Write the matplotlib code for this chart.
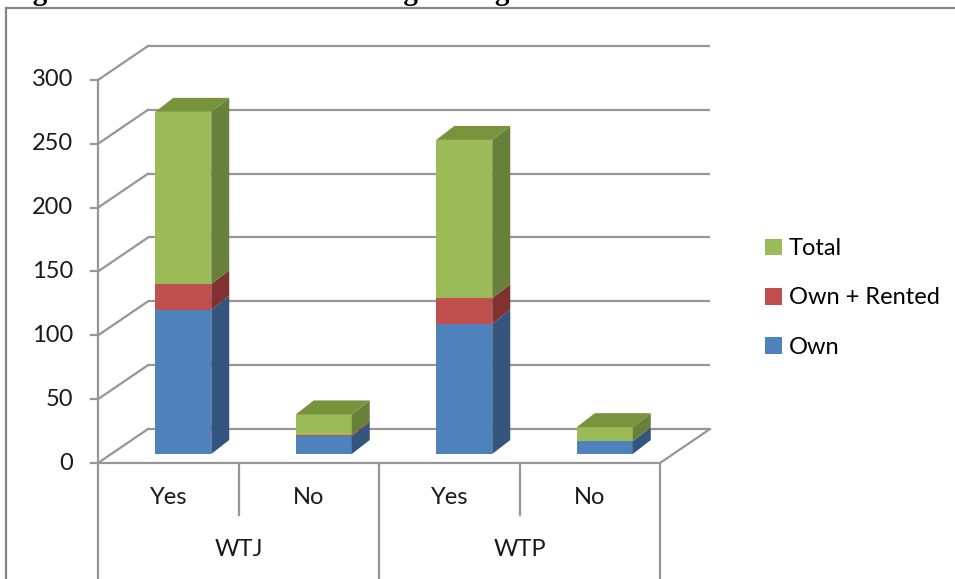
import numpy as np
import matplotlib.pyplot as plt
from matplotlib.patches import Polygon, Patch
from matplotlib.lines import Line2D

# stacked values per bar, left to right
groups = ['WTJ', 'WTP']
answers = ['Yes', 'No', 'Yes', 'No']
own = [113, 14, 102, 10]
own_rented = [20, 1, 20, 0]
total = [135, 16, 124, 11]
series_names = ['Own', 'Own + Rented', 'Total']
yticks = [0, 50, 100, 150, 200, 250, 300]

# face colours: front, side, top
colours = {
    'Own': ('#4f81bd', '#34557d', '#3e6696'),
    'Own + Rented': ('#c0504d', '#7f3230', '#9a3f3c'),
    'Total': ('#9bbb59', '#67803a', '#77933c'),
}
grid_col = '#969696'
txt_col = '#1a1a1a'
fsize = 17

W, H = 955, 579
fig = plt.figure(figsize=(W / 100, H / 100), dpi=100)
ax = fig.add_axes([0, 0, 1, 1])

# pixel scale of the plot: one category is 140.5 px wide, one unit is 1.2767 px high
px_cat = 140.5
px_val = 1.2767
x_left = 98     # pixel where category -0.5 sits
y_zero = 463    # pixel row of value 0
ax.set_xlim((0 - x_left) / px_cat - 0.5, (W - x_left) / px_cat - 0.5)
ax.set_ylim((y_zero - H) / px_val, y_zero / px_val)
ax.axis('off')

# oblique depth of the box and of the bars
wall_dx, wall_dy = 50 / px_cat, 34 / px_val
bar_ox, bar_oy = 15 / px_cat, 9 / px_val
bar_dx, bar_dy = 18 / px_cat, 14 / px_val
half_w = 28 / px_cat

n = len(answers)
x_lo, x_hi = -0.5, n - 0.5
ymax = yticks[-1]
lw = 1.6

# back wall gridlines, left diagonals and y ticks
for v in yticks:
    ax.plot([x_lo + wall_dx, x_hi + wall_dx], [v + wall_dy, v + wall_dy],
            color=grid_col, lw=lw, zorder=1, solid_capstyle='butt')
    ax.plot([x_lo, x_lo + wall_dx], [v, v + wall_dy], color=grid_col, lw=lw, zorder=1)
    ax.plot([x_lo - 7 / px_cat, x_lo], [v, v], color=grid_col, lw=lw, zorder=1)
    ax.text(x_lo - 25 / px_cat, v, str(v), ha='right', va='center',
            fontsize=fsize, family='Lato', color=txt_col)

# floor outline
ax.plot([x_lo, x_hi], [0, 0], color=grid_col, lw=lw, zorder=1)
ax.plot([x_hi, x_hi + wall_dx], [0, wall_dy], color=grid_col, lw=lw, zorder=1)
ax.plot([x_lo, x_lo], [0, ymax], color=grid_col, lw=lw, zorder=1)

# category axis: separators and labels
y_bot = ax.get_ylim()[0]
y_mid = (y_zero - 515) / px_val
for k in range(n + 1):
    xb = k - 0.5
    end = y_bot if k % 2 == 0 else y_mid
    ax.plot([xb, xb], [0, end], color=grid_col, lw=lw, zorder=1)
for k, lab in enumerate(answers):
    ax.text(k, (y_zero - 498) / px_val, lab, ha='center', va='center',
            fontsize=fsize, family='Lato', color=txt_col)
for g, lab in enumerate(groups):
    ax.text(2 * g + 0.5, (y_zero - 549) / px_val, lab, ha='center', va='center',
            fontsize=fsize, family='Lato', color=txt_col)

# stacked pseudo-3D bars
stacks = [own, own_rented, total]
for i in range(n):
    x0 = i - half_w + bar_ox
    x1 = i + half_w + bar_ox
    base = bar_oy
    top_name = None
    for name, vals in zip(series_names, stacks):
        h = vals[i]
        if h <= 0:
            continue
        front, side, _ = colours[name]
        b, t = base, base + h
        ax.add_patch(Polygon([(x0, b), (x1, b), (x1, t), (x0, t)],
                             closed=True, fc=front, ec='none', zorder=3))
        ax.add_patch(Polygon([(x1, b), (x1 + bar_dx, b + bar_dy),
                              (x1 + bar_dx, t + bar_dy), (x1, t)],
                             closed=True, fc=side, ec='none', zorder=3))
        base = t
        top_name = name
    if top_name is not None:
        ax.add_patch(Polygon([(x0, base), (x1, base), (x1 + bar_dx, base + bar_dy),
                              (x0 + bar_dx, base + bar_dy)],
                             closed=True, fc=colours[top_name][2], ec='none', zorder=3))

# legend, top entry first
handles = [Patch(fc=colours[s][0], ec='none', label=s) for s in reversed(series_names)]
ax.legend(handles=handles, loc='center left', bbox_to_anchor=(765 / W, 1 - 298 / H),
          frameon=False, prop={'family': 'Lato', 'size': fsize},
          handlelength=0.7, handleheight=0.7, handletextpad=0.3,
          labelspacing=1.2, borderaxespad=0, borderpad=0)

# chart area border, running off the right and bottom edges
fig.add_artist(Line2D([6 / W, 6 / W], [0, 1 - 8 / H], color='#868686', lw=1.6))
fig.add_artist(Line2D([6 / W, 1], [1 - 8 / H, 1 - 8 / H], color='#868686', lw=1.6))

# caption sitting above the frame, only its descenders reach the page
fig.text(7 / W, 1.0, 'Figure 3: Status of Land Holding among',
         ha='left', va='baseline', fontsize=21, fontweight='bold',
         family='Liberation Serif')

fig.savefig('out.png', dpi=100)
